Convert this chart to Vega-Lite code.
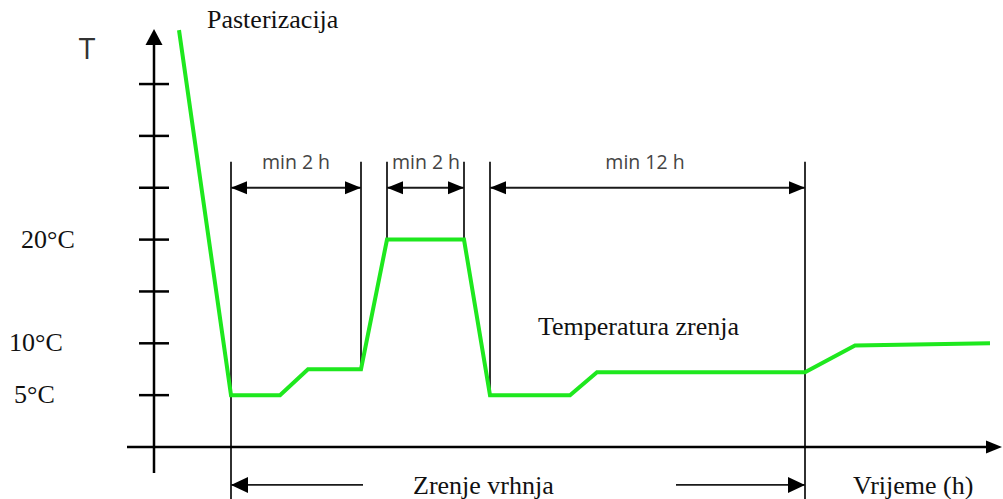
{
  "$schema": "https://vega.github.io/schema/vega-lite/v6.json",
  "width": 1003,
  "height": 499,
  "autosize": "none",
  "padding": 0,
  "background": "white",
  "config": {"view": {"stroke": null}},
  "datasets": {
    "curve": [
      {"x": 2.5, "y": 40.2},
      {"x": 7.7, "y": 5.0},
      {"x": 12.6, "y": 5.0},
      {"x": 15.4, "y": 7.5},
      {"x": 20.7, "y": 7.5},
      {"x": 23.3, "y": 20.0},
      {"x": 31.0, "y": 20.0},
      {"x": 33.6, "y": 5.0},
      {"x": 41.6, "y": 5.0},
      {"x": 44.3, "y": 7.2},
      {"x": 65.1, "y": 7.2},
      {"x": 70.1, "y": 9.8},
      {"x": 83.6, "y": 10.0}
    ],
    "axes": [
      {"x": 0, "y": -2.5, "x2": 0, "y2": 39.0},
      {"x": -2.7, "y": 0, "x2": 83.5, "y2": 0},
      {"x": -1.5, "y": 5, "x2": 1.5, "y2": 5},
      {"x": -1.5, "y": 10, "x2": 1.5, "y2": 10},
      {"x": -1.5, "y": 15, "x2": 1.5, "y2": 15},
      {"x": -1.5, "y": 20, "x2": 1.5, "y2": 20},
      {"x": -1.5, "y": 25, "x2": 1.5, "y2": 25},
      {"x": -1.5, "y": 30, "x2": 1.5, "y2": 30},
      {"x": -1.5, "y": 35, "x2": 1.5, "y2": 35}
    ],
    "dims": [
      {"x": 7.7, "y": 27.5, "x2": 7.7, "y2": -5.2},
      {"x": 20.7, "y": 27.5, "x2": 20.7, "y2": 7.5},
      {"x": 23.3, "y": 27.5, "x2": 23.3, "y2": 20.0},
      {"x": 31.0, "y": 27.5, "x2": 31.0, "y2": 20.0},
      {"x": 33.6, "y": 27.5, "x2": 33.6, "y2": 5.0},
      {"x": 65.1, "y": 27.5, "x2": 65.1, "y2": -5.2},
      {"x": 7.7, "y": 25, "x2": 20.7, "y2": 25},
      {"x": 23.3, "y": 25, "x2": 31.0, "y2": 25},
      {"x": 33.6, "y": 25, "x2": 65.1, "y2": 25},
      {"x": 7.7, "y": -3.66, "x2": 20.9, "y2": -3.66},
      {"x": 52.2, "y": -3.66, "x2": 65.1, "y2": -3.66}
    ],
    "heads": [
      {"x": 0, "y": 40.3, "dir": "U"},
      {"x": 84.8, "y": 0, "dir": "R"},
      {"x": 7.7, "y": 25, "dir": "L"},
      {"x": 20.7, "y": 25, "dir": "R"},
      {"x": 23.3, "y": 25, "dir": "L"},
      {"x": 31.0, "y": 25, "dir": "R"},
      {"x": 33.6, "y": 25, "dir": "L"},
      {"x": 65.1, "y": 25, "dir": "R"},
      {"x": 7.7, "y": -3.66, "dir": "BL"},
      {"x": 65.1, "y": -3.66, "dir": "BR"}
    ],
    "serifLabels": [
      {"x": 5.3, "y": 41.2, "label": "Pasterizacija"},
      {"x": -13.3, "y": 20, "label": "20°C"},
      {"x": -14.5, "y": 10, "label": "10°C"},
      {"x": -14.0, "y": 5, "label": "5°C"},
      {"x": 38.4, "y": 11.6, "label": "Temperatura zrenja"},
      {"x": 25.9, "y": -3.8, "label": "Zrenje vrhnja"},
      {"x": 69.9, "y": -3.8, "label": "Vrijeme (h)"}
    ],
    "sansLabels": [
      {"x": 14.2, "y": 27.4, "label": "min 2 h"},
      {"x": 27.2, "y": 27.4, "label": "min 2 h"},
      {"x": 49.1, "y": 27.4, "label": "min 12 h"}
    ],
    "tLabel": [
      {"x": -6.7, "y": 38.3, "label": "T"}
    ]
  },
  "encoding": {
    "x": {"field": "x", "type": "quantitative", "scale": {"domain": [-15.4, 84.9], "nice": false, "zero": false}, "axis": null},
    "y": {"field": "y", "type": "quantitative", "scale": {"domain": [-5.014, 43.105], "nice": false, "zero": false}, "axis": null}
  },
  "layer": [
    {
      "data": {"name": "dims"},
      "mark": {"type": "rule", "color": "#1a1a1a", "strokeWidth": 1.8},
      "encoding": {"x2": {"field": "x2"}, "y2": {"field": "y2"}}
    },
    {
      "data": {"name": "axes"},
      "mark": {"type": "rule", "color": "#000000", "strokeWidth": 2.5},
      "encoding": {"x2": {"field": "x2"}, "y2": {"field": "y2"}}
    },
    {
      "data": {"name": "curve"},
      "mark": {"type": "line", "color": "#1ee81e", "strokeWidth": 4, "strokeJoin": "miter"},
      "encoding": {"order": {"field": "x", "type": "quantitative"}}
    },
    {
      "data": {"name": "heads"},
      "mark": {"type": "point", "filled": true, "color": "#000000", "opacity": 1, "size": 400, "strokeWidth": 0},
      "encoding": {
        "shape": {
          "field": "dir",
          "type": "nominal",
          "legend": null,
          "scale": {
            "domain": ["U", "R", "L", "BL", "BR"],
            "range": [
              "M0,0 L-0.85,1.6 L0.85,1.6 Z",
              "M0,0 L-1.6,-0.65 L-1.6,0.65 Z",
              "M0,0 L1.6,-0.65 L1.6,0.65 Z",
              "M0,0 L1.7,-0.8 L1.7,0.8 Z",
              "M0,0 L-1.7,-0.8 L-1.7,0.8 Z"
            ]
          }
        }
      }
    },
    {
      "data": {"name": "serifLabels"},
      "mark": {"type": "text", "font": "Liberation Serif", "fontSize": 26, "color": "#111111", "align": "left", "baseline": "middle"},
      "encoding": {"text": {"field": "label"}}
    },
    {
      "data": {"name": "sansLabels"},
      "mark": {"type": "text", "font": "Open Sans", "fontSize": 19.5, "color": "#444444", "align": "center", "baseline": "middle"},
      "encoding": {"text": {"field": "label"}}
    },
    {
      "data": {"name": "tLabel"},
      "mark": {"type": "text", "font": "Open Sans", "fontSize": 30, "color": "#333333", "align": "center", "baseline": "middle"},
      "encoding": {"text": {"field": "label"}}
    }
  ]
}
